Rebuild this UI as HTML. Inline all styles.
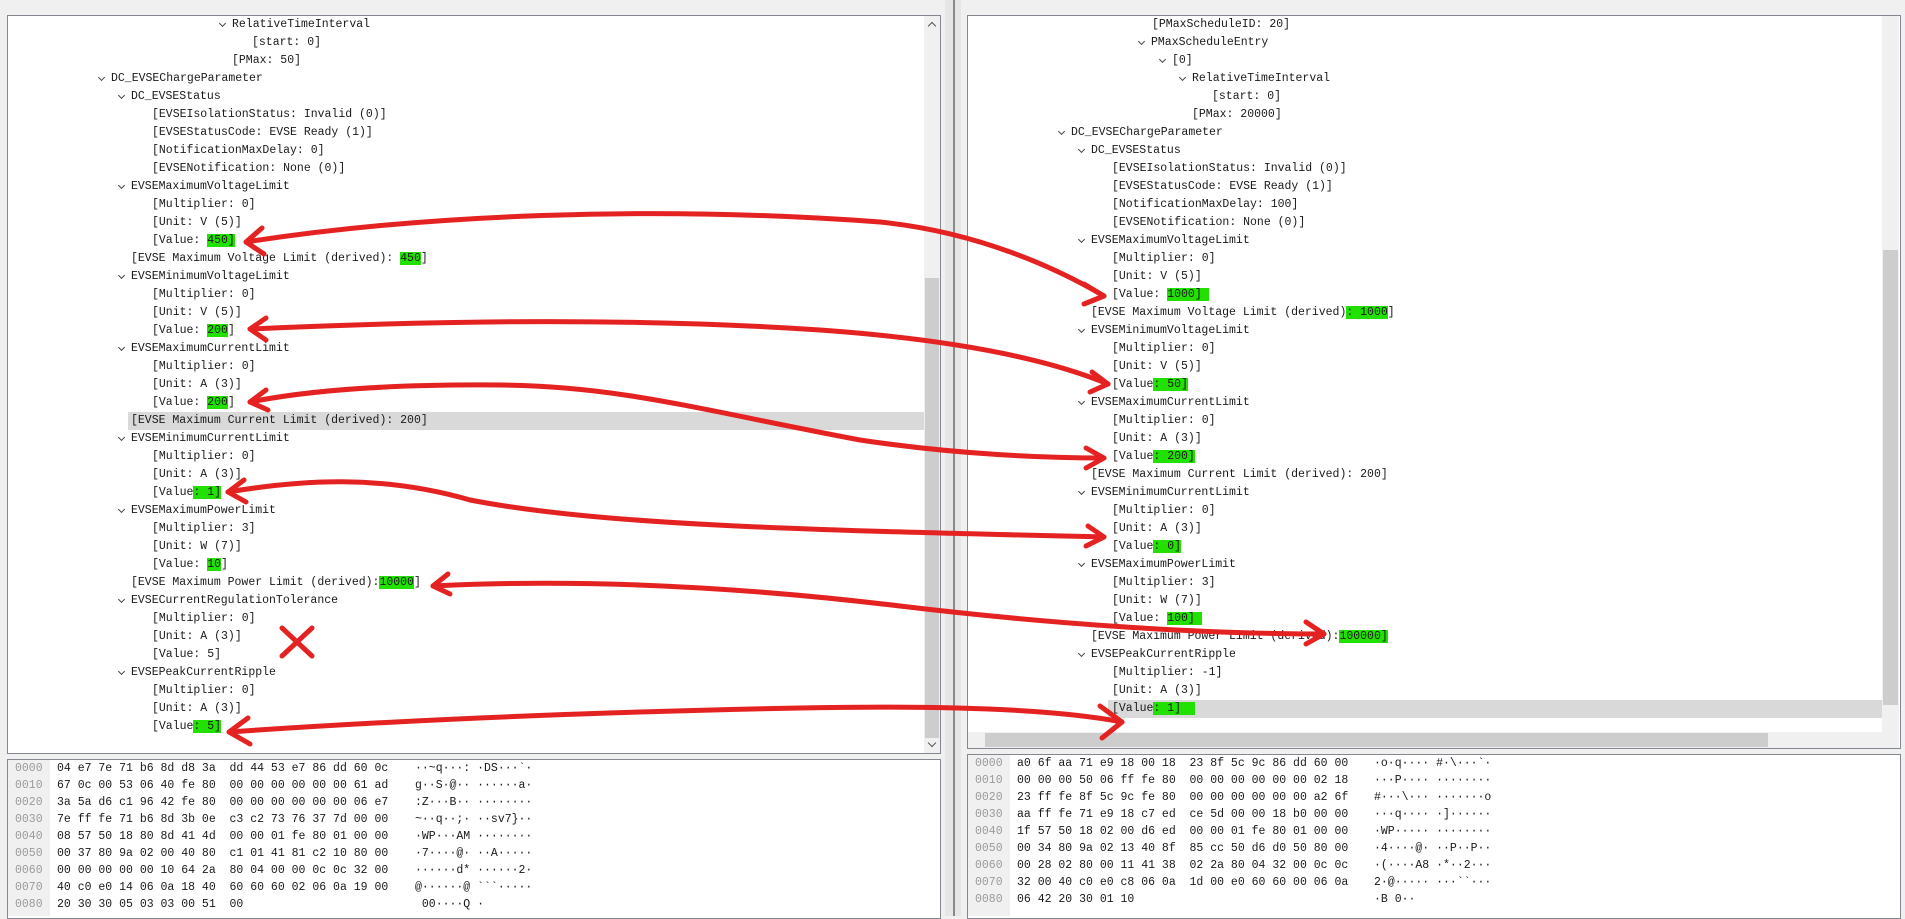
<!DOCTYPE html>
<html><head><meta charset="utf-8">
<style>
body{margin:0;width:1905px;height:916px;background:#f0f0f0;position:relative;overflow:hidden;font-family:"Liberation Mono",monospace;font-size:11.5px;color:#1a1a1a}
.p{position:absolute;background:#fff;border:1px solid #828790;overflow:hidden;box-sizing:border-box}
.r{position:absolute;height:18px;line-height:18px;white-space:pre}
.c::before{content:"";position:absolute;left:-12px;top:5px;width:4px;height:4px;border-right:1.5px solid #444;border-bottom:1.5px solid #444;transform:rotate(45deg)}
.g{background:#22e000}
.hl{position:absolute;background:#d9d9d9;height:18px}
pre{position:absolute;margin:0;font-family:"Liberation Mono",monospace;font-size:11.5px;line-height:17px;white-space:pre}
.off{color:#9a9a9a}
</style></head><body>
<div class="p" style="left:7px;top:15px;width:934px;height:739px"></div>
<div style="position:absolute;left:924px;top:16px;width:16px;height:737px;background:#f0f0f0"></div>
<div style="position:absolute;left:925px;top:278px;width:14px;height:460px;background:#cdcdcd"></div>
<div style="position:absolute;left:929px;top:23px;width:5px;height:5px;border-left:1.5px solid #555;border-top:1.5px solid #555;transform:rotate(45deg)"></div>
<div style="position:absolute;left:929px;top:740px;width:5px;height:5px;border-right:1.5px solid #555;border-bottom:1.5px solid #555;transform:rotate(45deg)"></div>
<div class="hl" style="left:128px;top:412px;width:796px"></div>

<div class="r c" style="top:16px;left:232px">RelativeTimeInterval</div>
<div class="r" style="top:34px;left:252px">[start: 0]</div>
<div class="r" style="top:52px;left:232px">[PMax: 50]</div>
<div class="r c" style="top:70px;left:111px">DC_EVSEChargeParameter</div>
<div class="r c" style="top:88px;left:131px">DC_EVSEStatus</div>
<div class="r" style="top:106px;left:152px">[EVSEIsolationStatus: Invalid (0)]</div>
<div class="r" style="top:124px;left:152px">[EVSEStatusCode: EVSE Ready (1)]</div>
<div class="r" style="top:142px;left:152px">[NotificationMaxDelay: 0]</div>
<div class="r" style="top:160px;left:152px">[EVSENotification: None (0)]</div>
<div class="r c" style="top:178px;left:131px">EVSEMaximumVoltageLimit</div>
<div class="r" style="top:196px;left:152px">[Multiplier: 0]</div>
<div class="r" style="top:214px;left:152px">[Unit: V (5)]</div>
<div class="r" style="top:232px;left:152px">[Value: <span class="g">450]</span></div>
<div class="r" style="top:250px;left:131px">[EVSE Maximum Voltage Limit (derived): <span class="g">450</span>]</div>
<div class="r c" style="top:268px;left:131px">EVSEMinimumVoltageLimit</div>
<div class="r" style="top:286px;left:152px">[Multiplier: 0]</div>
<div class="r" style="top:304px;left:152px">[Unit: V (5)]</div>
<div class="r" style="top:322px;left:152px">[Value: <span class="g">200</span>]</div>
<div class="r c" style="top:340px;left:131px">EVSEMaximumCurrentLimit</div>
<div class="r" style="top:358px;left:152px">[Multiplier: 0]</div>
<div class="r" style="top:376px;left:152px">[Unit: A (3)]</div>
<div class="r" style="top:394px;left:152px">[Value: <span class="g">200</span>]</div>
<div class="r" style="top:412px;left:131px">[EVSE Maximum Current Limit (derived): 200]</div>
<div class="r c" style="top:430px;left:131px">EVSEMinimumCurrentLimit</div>
<div class="r" style="top:448px;left:152px">[Multiplier: 0]</div>
<div class="r" style="top:466px;left:152px">[Unit: A (3)]</div>
<div class="r" style="top:484px;left:152px">[Value<span class="g">: 1]</span></div>
<div class="r c" style="top:502px;left:131px">EVSEMaximumPowerLimit</div>
<div class="r" style="top:520px;left:152px">[Multiplier: 3]</div>
<div class="r" style="top:538px;left:152px">[Unit: W (7)]</div>
<div class="r" style="top:556px;left:152px">[Value: <span class="g">10</span>]</div>
<div class="r" style="top:574px;left:131px">[EVSE Maximum Power Limit (derived):<span class="g">10000</span>]</div>
<div class="r c" style="top:592px;left:131px">EVSECurrentRegulationTolerance</div>
<div class="r" style="top:610px;left:152px">[Multiplier: 0]</div>
<div class="r" style="top:628px;left:152px">[Unit: A (3)]</div>
<div class="r" style="top:646px;left:152px">[Value: 5]</div>
<div class="r c" style="top:664px;left:131px">EVSEPeakCurrentRipple</div>
<div class="r" style="top:682px;left:152px">[Multiplier: 0]</div>
<div class="r" style="top:700px;left:152px">[Unit: A (3)]</div>
<div class="r" style="top:718px;left:152px">[Value<span class="g">: 5]</span></div>

<div class="p" style="left:7px;top:759px;width:934px;height:160px"></div>
<div style="position:absolute;left:8px;top:760px;width:42px;height:156px;background:#f0f0f0"></div>
<pre class="off" style="left:15px;top:760px">0000
0010
0020
0030
0040
0050
0060
0070
0080</pre>
<pre style="left:57px;top:760px">04 e7 7e 71 b6 8d d8 3a  dd 44 53 e7 86 dd 60 0c
67 0c 00 53 06 40 fe 80  00 00 00 00 00 00 61 ad
3a 5a d6 c1 96 42 fe 80  00 00 00 00 00 00 06 e7
7e ff fe 71 b6 8d 3b 0e  c3 c2 73 76 37 7d 00 00
08 57 50 18 80 8d 41 4d  00 00 01 fe 80 01 00 00
00 37 80 9a 02 00 40 80  c1 01 41 81 c2 10 80 00
00 00 00 00 00 10 64 2a  80 04 00 00 0c 0c 32 00
40 c0 e0 14 06 0a 18 40  60 60 60 02 06 0a 19 00
20 30 30 05 03 03 00 51  00</pre>
<pre style="left:415px;top:760px">··~q···: ·DS···&#96;·
g··S·@·· ······a·
:Z···B·· ········
~··q··;· ··sv7}··
·WP···AM ········
·7····@· ··A·····
······d* ······2·
@······@ &#96;&#96;&#96;·····
 00····Q ·</pre>

<div style="position:absolute;left:945px;top:0;width:16px;height:916px;background:#e6e6e6"></div>
<div style="position:absolute;left:953px;top:0;width:2px;height:916px;background:#8a8a8a"></div>

<div class="p" style="left:967px;top:15px;width:934px;height:734px"></div>
<div style="position:absolute;left:1882px;top:16px;width:17px;height:716px;background:#f0f0f0"></div>
<div style="position:absolute;left:1883px;top:250px;width:15px;height:455px;background:#cdcdcd"></div>
<div style="position:absolute;left:968px;top:732px;width:931px;height:16px;background:#f0f0f0"></div>
<div style="position:absolute;left:985px;top:733px;width:783px;height:14px;background:#cdcdcd"></div>
<div class="hl" style="left:1108px;top:700px;width:774px"></div>

<div class="r" style="top:16px;left:1152px">[PMaxScheduleID: 20]</div>
<div class="r c" style="top:34px;left:1151px">PMaxScheduleEntry</div>
<div class="r c" style="top:52px;left:1172px">[0]</div>
<div class="r c" style="top:70px;left:1192px">RelativeTimeInterval</div>
<div class="r" style="top:88px;left:1212px">[start: 0]</div>
<div class="r" style="top:106px;left:1192px">[PMax: 20000]</div>
<div class="r c" style="top:124px;left:1071px">DC_EVSEChargeParameter</div>
<div class="r c" style="top:142px;left:1091px">DC_EVSEStatus</div>
<div class="r" style="top:160px;left:1112px">[EVSEIsolationStatus: Invalid (0)]</div>
<div class="r" style="top:178px;left:1112px">[EVSEStatusCode: EVSE Ready (1)]</div>
<div class="r" style="top:196px;left:1112px">[NotificationMaxDelay: 100]</div>
<div class="r" style="top:214px;left:1112px">[EVSENotification: None (0)]</div>
<div class="r c" style="top:232px;left:1091px">EVSEMaximumVoltageLimit</div>
<div class="r" style="top:250px;left:1112px">[Multiplier: 0]</div>
<div class="r" style="top:268px;left:1112px">[Unit: V (5)]</div>
<div class="r" style="top:286px;left:1112px">[Value: <span class="g">1000] </span></div>
<div class="r" style="top:304px;left:1091px">[EVSE Maximum Voltage Limit (derived)<span class="g">: 1000</span>]</div>
<div class="r c" style="top:322px;left:1091px">EVSEMinimumVoltageLimit</div>
<div class="r" style="top:340px;left:1112px">[Multiplier: 0]</div>
<div class="r" style="top:358px;left:1112px">[Unit: V (5)]</div>
<div class="r" style="top:376px;left:1112px">[Value<span class="g">: 50]</span></div>
<div class="r c" style="top:394px;left:1091px">EVSEMaximumCurrentLimit</div>
<div class="r" style="top:412px;left:1112px">[Multiplier: 0]</div>
<div class="r" style="top:430px;left:1112px">[Unit: A (3)]</div>
<div class="r" style="top:448px;left:1112px">[Value<span class="g">: 200]</span></div>
<div class="r" style="top:466px;left:1091px">[EVSE Maximum Current Limit (derived): 200]</div>
<div class="r c" style="top:484px;left:1091px">EVSEMinimumCurrentLimit</div>
<div class="r" style="top:502px;left:1112px">[Multiplier: 0]</div>
<div class="r" style="top:520px;left:1112px">[Unit: A (3)]</div>
<div class="r" style="top:538px;left:1112px">[Value<span class="g">: 0]</span></div>
<div class="r c" style="top:556px;left:1091px">EVSEMaximumPowerLimit</div>
<div class="r" style="top:574px;left:1112px">[Multiplier: 3]</div>
<div class="r" style="top:592px;left:1112px">[Unit: W (7)]</div>
<div class="r" style="top:610px;left:1112px">[Value: <span class="g">100] </span></div>
<div class="r" style="top:628px;left:1091px">[EVSE Maximum Power Limit (derived):<span class="g">100000]</span></div>
<div class="r c" style="top:646px;left:1091px">EVSEPeakCurrentRipple</div>
<div class="r" style="top:664px;left:1112px">[Multiplier: -1]</div>
<div class="r" style="top:682px;left:1112px">[Unit: A (3)]</div>
<div class="r" style="top:700px;left:1112px">[Value<span class="g">: 1]  </span></div>

<div class="p" style="left:967px;top:754px;width:934px;height:165px"></div>
<div style="position:absolute;left:968px;top:755px;width:42px;height:161px;background:#f0f0f0"></div>
<pre class="off" style="left:975px;top:755px">0000
0010
0020
0030
0040
0050
0060
0070
0080</pre>
<pre style="left:1017px;top:755px">a0 6f aa 71 e9 18 00 18  23 8f 5c 9c 86 dd 60 00
00 00 00 50 06 ff fe 80  00 00 00 00 00 00 02 18
23 ff fe 8f 5c 9c fe 80  00 00 00 00 00 00 a2 6f
aa ff fe 71 e9 18 c7 ed  ce 5d 00 00 18 b0 00 00
1f 57 50 18 02 00 d6 ed  00 00 01 fe 80 01 00 00
00 34 80 9a 02 13 40 8f  85 cc 50 d6 d0 50 80 00
00 28 02 80 00 11 41 38  02 2a 80 04 32 00 0c 0c
32 00 40 c0 e0 c8 06 0a  1d 00 e0 60 60 00 06 0a
06 42 20 30 01 10</pre>
<pre style="left:1374px;top:755px">·o·q···· #·\···&#96;·
···P···· ········
#···\··· ·······o
···q···· ·]······
·WP····· ········
·4····@· ··P··P··
·(····A8 ·*··2···
2·@····· ···&#96;&#96;···
·B 0··</pre>

<svg style="position:absolute;left:0;top:0" width="1905" height="916" viewBox="0 0 1905 916">
<g fill="none" stroke="#e52222" stroke-width="5" stroke-linecap="round" stroke-linejoin="round">
<path d="M246,242 C420,215 650,205 880,222 C980,232 1060,270 1104,296"/>
<path d="M262,228 L246,242 L264,254"/><path d="M1084,284 L1104,296 L1084,304"/>
<path d="M250,329 C450,320 640,318 820,330 C960,340 1050,360 1108,384"/>
<path d="M266,318 L250,329 L266,340"/><path d="M1092,372 L1108,384 L1090,392"/>
<path d="M250,402 C300,392 380,384 500,385 C620,386 700,410 860,440 C960,455 1050,458 1104,458"/>
<path d="M266,390 L250,402 L268,410"/><path d="M1086,448 L1104,458 L1086,468"/>
<path d="M228,492 C300,480 380,474 470,500 C600,525 800,530 1104,537"/>
<path d="M244,480 L228,492 L246,502"/><path d="M1088,526 L1104,537 L1086,546"/>
<path d="M433,586 C550,580 700,582 900,606 C1050,624 1200,634 1324,634"/>
<path d="M448,574 L433,586 L450,594"/><path d="M1306,622 L1324,634 L1306,644"/>
<path d="M229,732 C400,720 600,712 800,708 C950,705 1060,710 1122,722"/>
<path d="M248,718 L229,732 L250,744"/><path d="M1100,706 L1122,722 L1102,738"/>
<path d="M282,628 L312,656 M312,628 L282,656"/>
</g></svg>
</body></html>
